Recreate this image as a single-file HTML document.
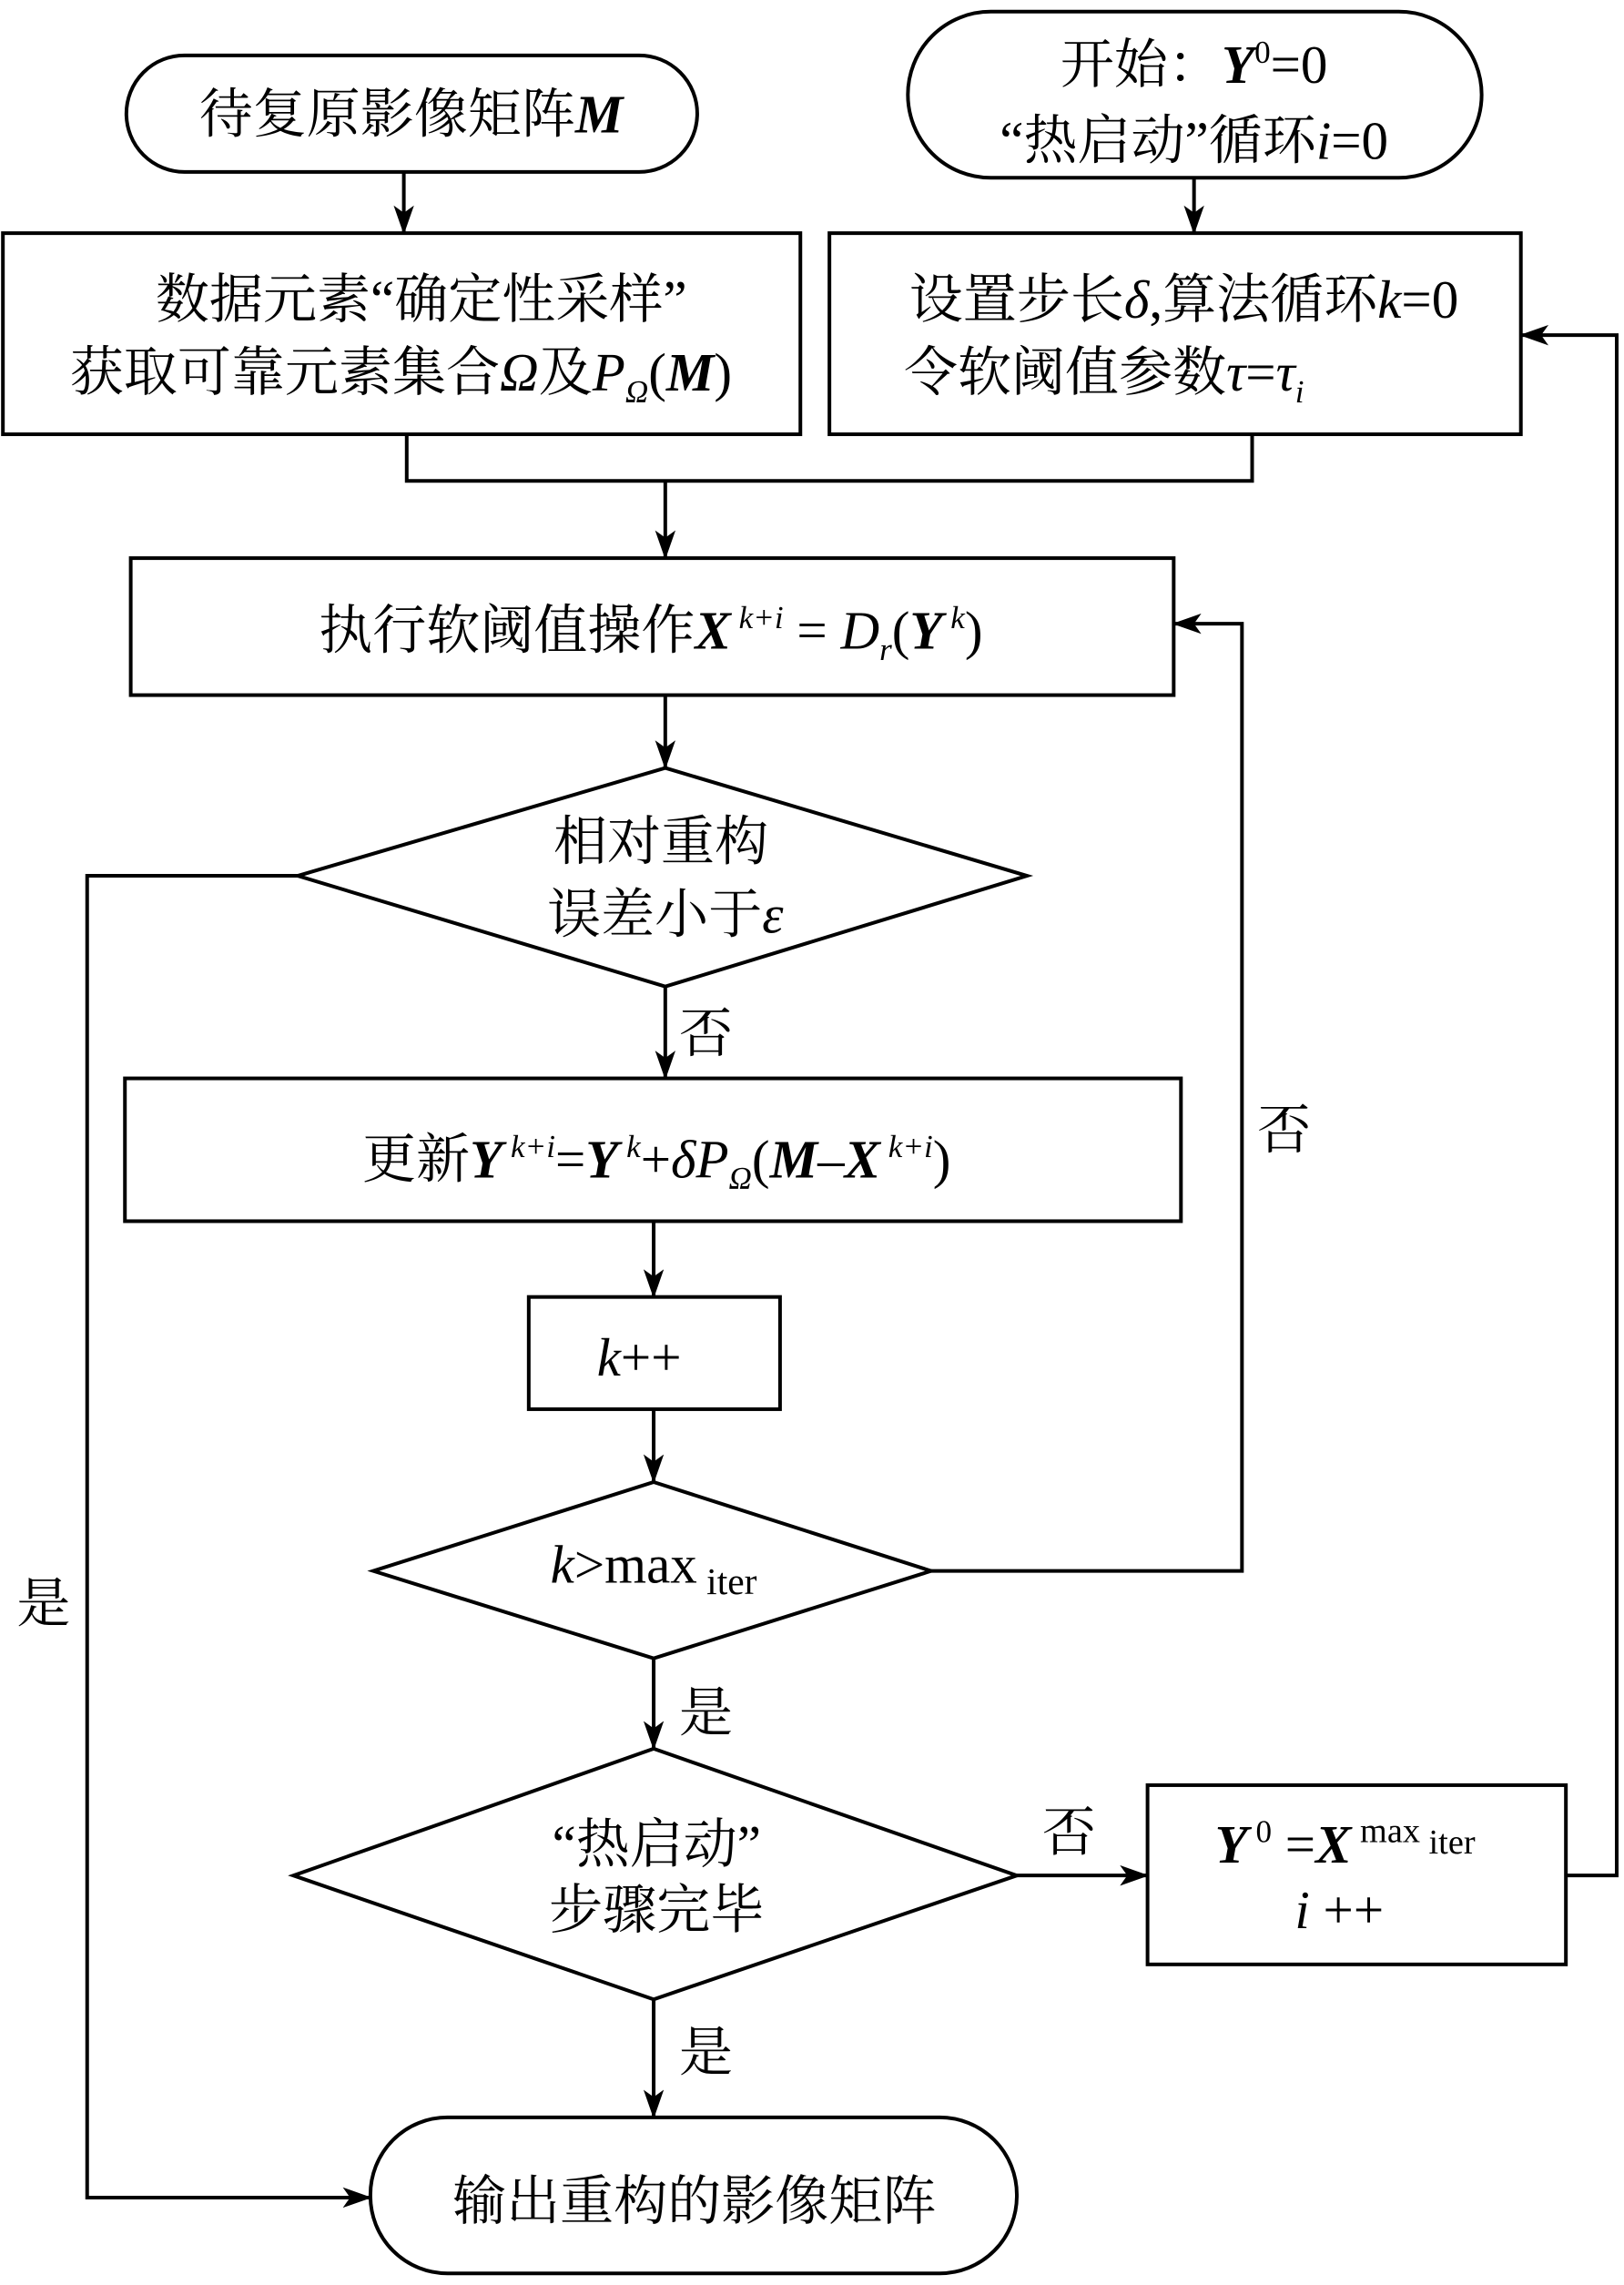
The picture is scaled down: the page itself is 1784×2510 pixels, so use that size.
<!DOCTYPE html>
<html><head><meta charset="utf-8"><style>
html,body{margin:0;padding:0;background:#fff}
svg{display:block}
text{font-family:"Liberation Serif","Noto Serif CJK SC",serif;font-size:37px;fill:#000}
.i{font-style:italic}
.b{font-weight:bold;font-style:italic}
</style></head><body>
<svg width="1784" height="2510" viewBox="0 0 1118 1568" preserveAspectRatio="none" xmlns="http://www.w3.org/2000/svg">
<defs><marker id="a" markerWidth="10" markerHeight="10" refX="9" refY="5" orient="auto" markerUnits="userSpaceOnUse"><path d="M0,0 L10,5 L0,10 L3,5 z" fill="#000"/></marker>
<marker id="a2" markerWidth="20" markerHeight="14" refX="19" refY="7" orient="auto" markerUnits="userSpaceOnUse"><path d="M0,0 L20,7 L0,14 L5,7 z" fill="#000"/></marker></defs>
<g fill="none" stroke="#000" stroke-width="2.5">
<rect x="87" y="38" width="393" height="80" rx="40"/>
<rect x="625" y="8" width="395" height="114" rx="57"/>
<rect x="2" y="160" width="549" height="138"/>
<rect x="571" y="160" width="476" height="138"/>
<rect x="90" y="383" width="718" height="94"/>
<polygon points="458,527 707,601 458,677 205,601"/>
<rect x="86" y="740" width="727" height="98"/>
<rect x="364" y="890" width="173" height="77"/>
<polygon points="450,1017 641,1078 450,1138 257,1078"/>
<polygon points="450,1200 700,1287 450,1372 202,1287"/>
<rect x="790" y="1225" width="288" height="123"/>
<rect x="255" y="1453" width="445" height="107" rx="53"/>
<g marker-end="url(#a2)">
<line x1="278" y1="118" x2="278" y2="160"/>
<line x1="822" y1="122" x2="822" y2="160"/>
<line x1="458" y1="330" x2="458" y2="383"/>
<line x1="458" y1="477" x2="458" y2="527"/>
<line x1="458" y1="677" x2="458" y2="740"/>
<line x1="450" y1="838" x2="450" y2="890"/>
<line x1="450" y1="967" x2="450" y2="1017"/>
<line x1="450" y1="1138" x2="450" y2="1200"/>
<line x1="700" y1="1287" x2="790" y2="1287"/>
<line x1="450" y1="1372" x2="450" y2="1453"/>
<polyline points="641,1078 855,1078 855,428 808,428"/>
<polyline points="1078,1287 1113,1287 1113,230 1047,230"/>
<polyline points="205,601 60,601 60,1508 255,1508"/>
</g>
<polyline points="280,298 280,330 862,330 862,298"/>
</g>
<g text-anchor="middle">
<text x="283" y="91">待复原影像矩阵<tspan class="b">M</tspan></text>
<text x="822" y="57">开始：<tspan class="b">Y</tspan><tspan font-size="22" dy="-14">0</tspan><tspan dy="14">=0</tspan></text>
<text x="822" y="109">“热启动”循环<tspan class="i">i</tspan>=0</text>
<text x="290" y="218">数据元素“确定性采样”</text>
<text x="276" y="268">获取可靠元素集合<tspan class="i">Ω</tspan>及<tspan class="i">P</tspan><tspan class="i" font-size="22" dy="8">Ω</tspan><tspan dy="-8">(</tspan><tspan class="b">M</tspan>)</text>
<text x="815" y="218">设置步长<tspan class="i">δ</tspan>,算法循环<tspan class="i">k</tspan>=0</text>
<text x="760" y="268">令软阈值参数<tspan class="i">τ</tspan>=<tspan class="i">τ</tspan><tspan class="i" font-size="22" dy="8">i</tspan></text>
<text x="448" y="445">执行软阈值操作<tspan class="b">X</tspan><tspan class="i" font-size="22" dy="-14"> k+i</tspan><tspan dy="14"> = </tspan><tspan class="i">D</tspan><tspan class="i" font-size="22" dy="8">r</tspan><tspan dy="-8">(</tspan><tspan class="b">Y</tspan><tspan class="i" font-size="22" dy="-14"> k</tspan><tspan dy="14">)</tspan></text>
<text x="455" y="590">相对重构</text>
<text x="458" y="640">误差小于<tspan class="i">ε</tspan></text>
<text x="452" y="808">更新<tspan class="b">Y</tspan><tspan class="i" font-size="22" dy="-14"> k+i</tspan><tspan dy="14">=</tspan><tspan class="b">Y</tspan><tspan class="i" font-size="22" dy="-14"> k</tspan><tspan dy="14">+</tspan><tspan class="i">δP</tspan><tspan class="i" font-size="22" dy="8">Ω</tspan><tspan dy="-8">(</tspan><tspan class="b">M</tspan>–<tspan class="b">X</tspan><tspan class="i" font-size="22" dy="-14"> k+i</tspan><tspan dy="14">)</tspan></text>
<text x="440" y="944"><tspan class="i">k</tspan>++</text>
<text x="450" y="1086"><tspan class="i">k</tspan>&gt;max<tspan font-size="26" dy="8"> iter</tspan></text>
<text x="452" y="1278">“热启动”</text>
<text x="452" y="1323">步骤完毕</text>
<text x="926" y="1278"><tspan class="b">Y</tspan><tspan font-size="22" dy="-14"> 0</tspan><tspan dy="14"> =</tspan><tspan class="b">X</tspan><tspan font-size="24" dy="-14"> max</tspan><tspan font-size="24" dy="8"> iter</tspan></text>
<text x="922" y="1323"><tspan class="i">i</tspan> ++</text>
<text x="478" y="1523">输出重构的影像矩阵</text>
<text x="486" y="722">否</text>
<text x="884" y="788">否</text>
<text x="486" y="1188">是</text>
<text x="736" y="1270">否</text>
<text x="486" y="1421">是</text>
<text x="30" y="1113">是</text>
</g>
</svg>
</body></html>
